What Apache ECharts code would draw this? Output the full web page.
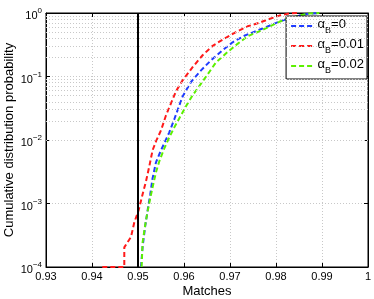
<!DOCTYPE html>
<html><head><meta charset="utf-8">
<script src="https://cdn.jsdelivr.net/npm/echarts@6/dist/echarts.min.js"></script>
<style>html,body{margin:0;padding:0;background:#fff}#c{width:374px;height:299px}</style>
</head><body><div id="c"></div>
<script>
// x tick labels
const xTicks = [0.93, 0.94, 0.95, 0.96, 0.97, 0.98, 0.99, 1];
const yTickExps = [-4, -3, -2, -1, 0];
const threshold = 0.95;
const minorGrid = [2e-4,3e-4,4e-4,5e-4,6e-4,7e-4,8e-4,9e-4,2e-3,3e-3,4e-3,5e-3,6e-3,7e-3,8e-3,9e-3,2e-2,3e-2,4e-2,5e-2,6e-2,7e-2,8e-2,9e-2,0.2,0.3,0.4,0.5,0.6,0.7,0.8,0.9];

// alpha_B = 0 (blue)
const blueX = [0.95065,0.9510,0.95159,0.9523,0.95267,0.95317,0.95391,0.9550,0.95572,0.9568,0.95789,0.95883,0.9597,0.96152,0.9637,0.96587,0.96839,0.97057,0.97311,0.97637,0.97854,0.98072,0.9829,0.98507,0.98724,0.98942];
const blueY = [1e-4,2.07e-4,4.54e-4,9.7e-4,1.40e-3,2.5e-3,4.46e-3,6.9e-3,8.9e-3,1.32e-2,2.12e-2,3.27e-2,4.86e-2,8.2e-2,0.125,0.18,0.259,0.346,0.438,0.544,0.629,0.732,0.826,0.91,0.982,1.0];
// alpha_B = 0.01 (red)
const redX = [0.94224,0.94702,0.94702,0.94848,0.9492,0.95013,0.9510,0.95174,0.95246,0.95317,0.95391,0.9550,0.95609,0.95717,0.95826,0.9597,0.96187,0.96404,0.96622,0.96876,0.9713,0.97383,0.97637,0.97854,0.98072,0.9829,0.98507];
const redY = [1e-4,1e-4,2.04e-4,2.97e-4,5.06e-4,7.8e-4,1.40e-3,2.24e-3,3.86e-3,6.9e-3,9.5e-3,1.42e-2,2.45e-2,3.78e-2,5.85e-2,8.7e-2,0.140,0.216,0.304,0.395,0.502,0.617,0.701,0.804,0.91,0.982,1.0];
// alpha_B = 0.02 (green)
const greenX = [0.95078,0.9510,0.95159,0.95209,0.95261,0.95317,0.95391,0.95463,0.95572,0.9568,0.95789,0.95898,0.96043,0.96187,0.9637,0.96513,0.96696,0.96948,0.97165,0.97383,0.97637,0.97854,0.98072,0.9829,0.98507,0.98724,0.98942];
const greenY = [1e-4,2.45e-4,4.7e-4,7.5e-4,1.16e-3,1.80e-3,3.1e-3,4.62e-3,7.4e-3,1.10e-2,1.58e-2,2.2e-2,3.4e-2,5.06e-2,7.7e-2,0.108,0.167,0.243,0.327,0.43,0.515,0.61,0.727,0.826,0.91,0.982,1.0];

const zip = (xs, ys) => xs.map((x, i) => [x, ys[i]]);
const font = 'Liberation Sans, Arial, sans-serif';
const dashIcon = 'path://M0,0h5v2h-5z M8,0h5v2h-5z M16,0h5v2h-5z';

const chart = echarts.init(document.getElementById('c'), null, {renderer: 'canvas'});
const lineSeries = (name, color, xs, ys) => ({
  name, type: 'line', data: zip(xs, ys), showSymbol: false, symbol: 'none',
  lineStyle: {color, width: 2, type: [5, 3]}, itemStyle: {color},
  animation: false, z: 3, clip: true
});
chart.setOption({
  animation: false,
  textStyle: {fontFamily: font},
  grid: {left: 46, right: 6, top: 13, bottom: 32, show: true, borderColor: '#000', borderWidth: 1,
    containLabel: false, outerBoundsMode: 'none'},
  xAxis: [{
    type: 'value', min: 0.93, max: 1, interval: 0.01,
    name: 'Matches', nameLocation: 'middle', nameGap: 18, nameMoveOverlap: false,
    nameTextStyle: {fontSize: 13, color: '#000', fontFamily: font},
    axisLine: {lineStyle: {color: '#000'}},
    axisTick: {inside: true, length: 4, lineStyle: {color: '#000'}},
    axisLabel: {color: '#000', fontSize: 11, margin: 4, fontFamily: font,
      formatter: v => String(+(+v).toFixed(2))},
    splitLine: {show: true, lineStyle: {color: '#c8c8c8', type: [1, 2], width: 1}}
  }, {
    type: 'value', min: 0.93, max: 1, interval: 0.01, position: 'top',
    axisLine: {lineStyle: {color: '#000'}},
    axisTick: {inside: true, length: 4, lineStyle: {color: '#000'}},
    axisLabel: {show: false}, splitLine: {show: false}
  }],
  yAxis: [{
    type: 'log', logBase: 10, min: 1e-4, max: 1,
    name: 'Cumulative distribution probability', nameLocation: 'middle', nameGap: 30, nameMoveOverlap: false,
    nameTextStyle: {fontSize: 13, color: '#000', fontFamily: font},
    axisLine: {show: true, lineStyle: {color: '#000'}},
    axisTick: {inside: true, length: 4, lineStyle: {color: '#000'}},
    axisLabel: {color: '#000', margin: 4, fontFamily: font,
      formatter: v => {
        const e = Math.round(Math.log10(v));
        return '{b|10}{s|' + (e < 0 ? '\u2212' + (-e) : e) + '}';
      },
      rich: {
        b: {fontSize: 11, color: '#000', fontFamily: font, padding: [6, 0, 0, 0]},
        s: {fontSize: 8, color: '#000', fontFamily: font, padding: [0, 0, 4, 0]}
      }
    },
    splitLine: {show: true, lineStyle: {color: '#c8c8c8', type: [1, 2], width: 1}}
  }, {
    type: 'log', logBase: 10, min: 1e-4, max: 1, position: 'right',
    axisLine: {show: true, lineStyle: {color: '#000'}},
    axisTick: {inside: true, length: 4, lineStyle: {color: '#000'}},
    axisLabel: {show: false}, splitLine: {show: false}
  }],
  legend: {
    orient: 'vertical', right: 7, top: 16,
    backgroundColor: '#fff', borderColor: '#000', borderWidth: 1, borderRadius: 0,
    padding: [2, 3, 4, 5], itemGap: 3, itemWidth: 22, itemHeight: 2,
    icon: dashIcon,
    data: ['a0', 'a1', 'a2'],
    formatter: n => ({a0: '{a|α}{s|B}{a|=0}', a1: '{a|α}{s|B}{a|=0.01}', a2: '{a|α}{s|B}{a|=0.02}'})[n],
    textStyle: {
      rich: {
        a: {fontSize: 13, color: '#000', fontFamily: font, padding: [0, 0, 3, 0]},
        s: {fontSize: 9, color: '#000', fontFamily: font, padding: [9, 0, 0, 0]}
      }
    }
  },
  series: [
    lineSeries('a0', '#1f3cff', blueX, blueY),
    lineSeries('a1', '#ff1a1a', redX, redY),
    lineSeries('a2', '#5cf000', greenX, greenY),
    {
      type: 'line', data: [], silent: true, z: 1,
      markLine: {
        silent: true, symbol: 'none', animation: false,
        label: {show: false},
        lineStyle: {color: '#c8c8c8', type: [1, 2], width: 1},
        data: minorGrid.map(v => ({yAxis: v}))
      }
    },
    {
      type: 'line', data: [], silent: true, z: 4,
      markLine: {
        silent: true, symbol: 'none', animation: false,
        label: {show: false},
        lineStyle: {color: '#000', type: 'solid', width: 2},
        data: [{xAxis: threshold}]
      }
    }
  ]
});
</script></body></html>
